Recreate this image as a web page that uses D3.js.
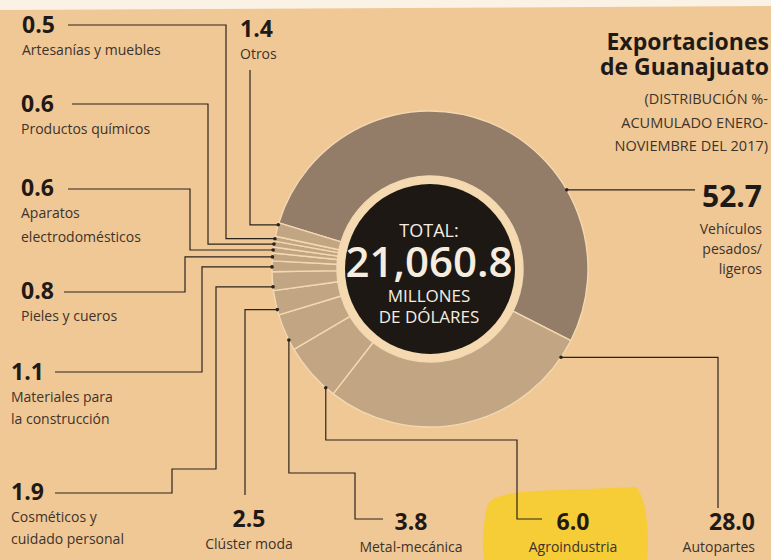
<!DOCTYPE html>
<html>
<head>
<meta charset="utf-8">
<script src="https://cdn.jsdelivr.net/npm/d3@7"></script>
<style>
  html, body { margin: 0; padding: 0; background: #f0c896; }
  #chart { width: 771px; height: 560px; position: relative; overflow: hidden; }
  text { font-family: "Open Sans", "Noto Sans", sans-serif; }
</style>
</head>
<body>
<div id="chart"></div>
<script>
// shares in % (clockwise from the big slice)
const sectors = [
  "Vehículos pesados/ligeros", "Autopartes", "Agroindustria", "Metal-mecánica",
  "Clúster moda", "Cosméticos y cuidado personal", "Materiales para la construcción",
  "Pieles y cueros", "Aparatos electrodomésticos", "Productos químicos",
  "Artesanías y muebles", "Otros"
];
const shares = [52.7, 28.0, 6.0, 3.8, 2.5, 1.9, 1.1, 0.8, 0.6, 0.6, 0.5, 1.4];
const labelLines = [
  ["Vehículos", "pesados/", "ligeros"],
  ["Autopartes"],
  ["Agroindustria"],
  ["Metal-mecánica"],
  ["Clúster moda"],
  ["Cosméticos y", "cuidado personal"],
  ["Materiales para", "la construcción"],
  ["Pieles y cueros"],
  ["Aparatos", "electrodomésticos"],
  ["Productos químicos"],
  ["Artesanías y muebles"],
  ["Otros"]
];
const totalLabel = "21,060.8";
const titleLines = ["Exportaciones", "de Guanajuato"];
const subtitleLines = ["(DISTRIBUCIÓN %-", "ACUMULADO ENERO-", "NOVIEMBRE DEL 2017)"];

const width = 771, height = 560;
const cx = 430, cy = 269;
const outerR = 158, innerR = 93, holeR = 85;
const startDeg = -73;

// layout for each label: where the leader touches the ring (t = fraction of slice),
// how it is routed, and where the text sits
const layout = [
  { t: 0.70, route: a => [[a.x, a.y], [695, a.y]],
    x: 762, y: 207, anchor: "end", big: true, lh: 20 },
  { t: 0.07, route: a => [[a.x, a.y], [718, a.y], [718, 508]],
    x: 755, y: 530, anchor: "end" },
  { t: 0.16, route: a => [[a.x, a.y], [a.x, 440], [517, 440], [517, 519], [542, 519]],
    x: 573, y: 530, anchor: "middle" },
  { t: 0.28, route: a => [[a.x, a.y], [a.x, 473], [355, 473], [355, 519], [383, 519]],
    x: 411, y: 530, anchor: "middle" },
  { t: 0.22, route: a => [[a.x, a.y], [245, a.y], [245, 495]],
    x: 249, y: 527, anchor: "middle" },
  { t: 0.20, route: a => [[a.x, a.y], [216, a.y], [216, 469], [172, 469], [172, 493], [55, 493]],
    x: 11, y: 500, anchor: "start", lh: 22 },
  { t: 0.45, route: a => [[a.x, a.y], [202, a.y], [202, 372], [55, 372]],
    x: 11, y: 380, anchor: "start", lh: 22 },
  { t: 0.5, route: a => [[a.x, a.y], [185, a.y], [185, 292], [64, 292]],
    x: 21, y: 299, anchor: "start" },
  { t: 0.5, route: a => [[a.x, a.y], [190, a.y], [190, 189], [68, 189]],
    x: 21, y: 196, anchor: "start", lh: 24 },
  { t: 0.5, route: a => [[a.x, a.y], [208, a.y], [208, 104], [72, 104]],
    x: 21, y: 112, anchor: "start" },
  { t: 0.5, route: a => [[a.x, a.y], [226, a.y], [226, 25], [68, 25]],
    x: 22, y: 33, anchor: "start" },
  { t: 0.85, route: a => [[a.x, a.y], [250, a.y], [250, 70]],
    x: 240, y: 37, anchor: "start" }
];

const container = d3.select("#chart");
const svg = container.append("svg")
  .attr("width", width)
  .attr("height", height)
  .style("display", "block");

// paper
svg.append("rect").attr("width", width).attr("height", height).attr("fill", "#f0c896");
svg.append("path")
  .attr("d", "M0,0 L771,0 L771,6 L400,8 L0,10 Z")
  .attr("fill", "#fbf2e6");

// highlighter mark behind "6.0 Agroindustria"
svg.append("path")
  .attr("d", "M487,507 C489,494 520,491 560,490 L636,487 C646,498 650,530 647,560 L484,560 C481,540 484,522 487,507 Z")
  .attr("fill", "#f6cc2c")
  .attr("opacity", 0.9);

const pie = d3.pie()
  .sort(null)
  .value(d => d)
  .startAngle(startDeg * Math.PI / 180)
  .endAngle(startDeg * Math.PI / 180 + 2 * Math.PI);

const arcs = pie(shares);

const arc = d3.arc()
  .innerRadius(innerR)
  .outerRadius(outerR);

const g = svg.append("g").attr("transform", `translate(${cx},${cy})`);

g.append("circle").attr("r", innerR + 1).attr("fill", "#f5d9b0");

g.selectAll("path.slice")
  .data(arcs)
  .enter()
  .append("path")
  .attr("class", "slice")
  .attr("d", arc)
  .attr("fill", (d, i) => i === 0 ? "#937d69" : "#c2a683")
  .attr("stroke", "#f3d8b2")
  .attr("stroke-width", 1.4)
  .attr("stroke-linejoin", "round");

g.append("circle").attr("r", holeR).attr("fill", "#1d1814");

// center text
const center = [
  { text: "TOTAL:", y: -32, size: 18, weight: 400 },
  { text: totalLabel, y: 8, size: 42, weight: 600 },
  { text: "MILLONES", y: 33, size: 17, weight: 400 },
  { text: "DE DÓLARES", y: 54, size: 17, weight: 400 }
];
g.selectAll("text.center")
  .data(center)
  .enter()
  .append("text")
  .attr("class", "center")
  .attr("x", -1)
  .attr("y", d => d.y)
  .attr("text-anchor", "middle")
  .attr("fill", "#f6ede0")
  .attr("font-size", d => d.size)
  .attr("font-weight", d => d.weight)
  .text(d => d.text);

// leader lines
const anchorPoint = (d, t) => {
  const a = d.startAngle + t * (d.endAngle - d.startAngle);
  return { x: cx + outerR * Math.sin(a), y: cy - outerR * Math.cos(a) };
};

const line = d3.line();
const leaders = svg.append("g")
  .attr("fill", "none")
  .attr("stroke", "#2b231d")
  .attr("stroke-width", 1.2);

arcs.forEach((d, i) => {
  const a = anchorPoint(d, layout[i].t);
  leaders.append("path").attr("d", line(layout[i].route(a)));
  svg.append("circle")
    .attr("cx", a.x).attr("cy", a.y).attr("r", 1.8)
    .attr("fill", "#2b231d");
});

// labels
const labels = svg.append("g");
arcs.forEach((d, i) => {
  const L = layout[i];
  labels.append("text")
    .attr("x", L.x)
    .attr("y", L.y)
    .attr("text-anchor", L.anchor)
    .attr("font-size", L.big ? 30 : 23)
    .attr("font-weight", 700)
    .attr("fill", "#1f1a16")
    .text(shares[i].toFixed(1));
  const t = labels.append("text")
    .attr("text-anchor", L.anchor)
    .attr("font-size", 14)
    .attr("fill", "#3d332b");
  labelLines[i].forEach((s, k) => {
    t.append("tspan")
      .attr("x", L.x)
      .attr("y", L.y + (L.big ? 27 : 22) + k * (L.lh || 22))
      .text(s);
  });
});

// title
svg.selectAll("text.title")
  .data(titleLines)
  .enter()
  .append("text")
  .attr("class", "title")
  .attr("x", 769)
  .attr("y", (d, i) => 50 + i * 25)
  .attr("text-anchor", "end")
  .attr("font-size", 23)
  .attr("font-weight", 700)
  .attr("fill", "#1f1a16")
  .text(d => d);

svg.selectAll("text.sub")
  .data(subtitleLines)
  .enter()
  .append("text")
  .attr("class", "sub")
  .attr("x", 768)
  .attr("y", (d, i) => 104 + i * 23.5)
  .attr("text-anchor", "end")
  .attr("font-size", 14.5)
  .attr("fill", "#3d332b")
  .text(d => d);
</script>
</body>
</html>
